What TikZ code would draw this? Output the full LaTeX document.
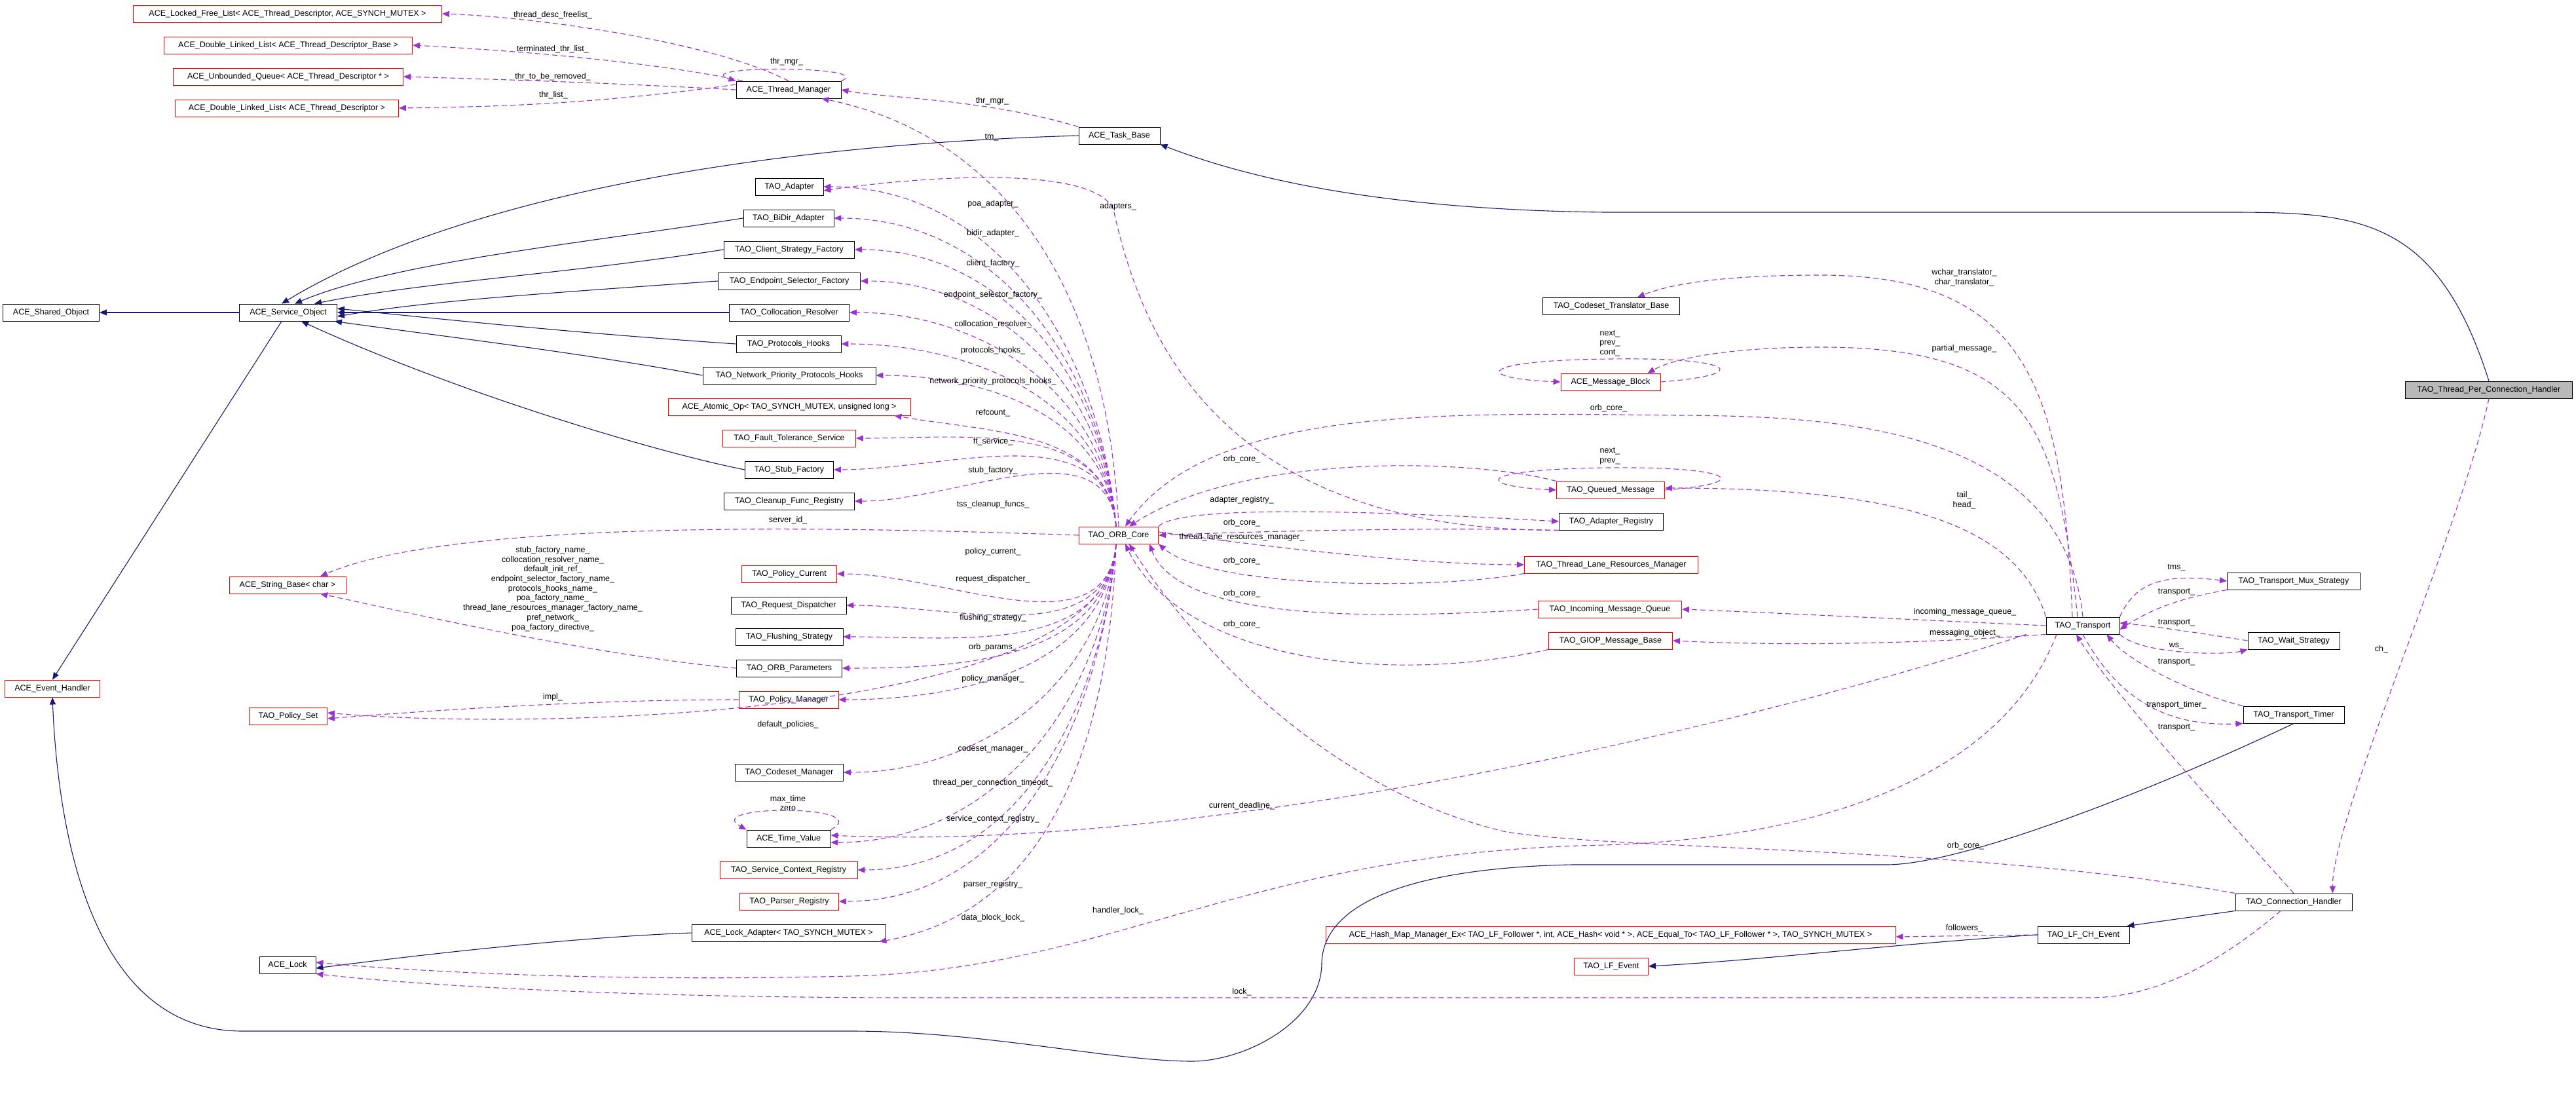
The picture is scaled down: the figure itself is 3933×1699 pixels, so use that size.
\documentclass[tikz,border=0pt]{standalone}
\usepackage{fontspec}
\setmainfont{Liberation Sans}
\usetikzlibrary{arrows.meta}
\definecolor{usecol}{HTML}{9A32CD}
\definecolor{inhcol}{HTML}{191970}
\tikzset{
  box/.style={draw=black, fill=white, line width=0.9pt, minimum height=26pt, inner sep=0pt, font=\fontsize{12.5}{14}\selectfont},
  rbox/.style={box, draw=red},
  gbox/.style={box, fill=gray!55},
  inh/.style={draw=inhcol, line width=1.1pt, -{Triangle[length=11pt,width=9pt]}},
  use/.style={draw=usecol, line width=1.1pt, dash pattern=on 8pt off 5pt, -{Triangle[length=11pt,width=9pt]}},
  lbl/.style={font=\fontsize{12.5}{14.7}\selectfont, inner sep=0pt, align=center}
}
\begin{document}
\begin{tikzpicture}[x=1pt,y=-1pt]
\useasboundingbox[fill=white] (0,0) rectangle (3933,1699);
% nodes
\node[rbox, minimum width=471] (lfl) at (439,21) {ACE\_Locked\_Free\_List< ACE\_Thread\_Descriptor, ACE\_SYNCH\_MUTEX >};
\node[rbox, minimum width=379] (dllb) at (440,69) {ACE\_Double\_Linked\_List< ACE\_Thread\_Descriptor\_Base >};
\node[rbox, minimum width=351] (ubq) at (440,117) {ACE\_Unbounded\_Queue< ACE\_Thread\_Descriptor * >};
\node[rbox, minimum width=341] (dlld) at (438,165) {ACE\_Double\_Linked\_List< ACE\_Thread\_Descriptor >};
\node[box, minimum width=160] (tm) at (1204,137) {ACE\_Thread\_Manager};
\node[box, minimum width=124] (tb) at (1709,207) {ACE\_Task\_Base};
\node[box, minimum width=104] (ad) at (1205,285) {TAO\_Adapter};
\node[box, minimum width=138] (bd) at (1204,333) {TAO\_BiDir\_Adapter};
\node[box, minimum width=199] (csf) at (1205,381) {TAO\_Client\_Strategy\_Factory};
\node[box, minimum width=217] (esf) at (1205,429) {TAO\_Endpoint\_Selector\_Factory};
\node[box, minimum width=183] (cr) at (1205,477) {TAO\_Collocation\_Resolver};
\node[box, minimum width=160] (ph) at (1204,525) {TAO\_Protocols\_Hooks};
\node[box, minimum width=264] (npph) at (1205,573) {TAO\_Network\_Priority\_Protocols\_Hooks};
\node[rbox, minimum width=370] (ao) at (1205,621) {ACE\_Atomic\_Op< TAO\_SYNCH\_MUTEX, unsigned long >};
\node[rbox, minimum width=203] (fts) at (1205,669) {TAO\_Fault\_Tolerance\_Service};
\node[box, minimum width=135] (sf) at (1205,717) {TAO\_Stub\_Factory};
\node[box, minimum width=199] (cfr) at (1205,765) {TAO\_Cleanup\_Func\_Registry};
\node[rbox, minimum width=145] (pc) at (1205,876) {TAO\_Policy\_Current};
\node[box, minimum width=176] (rd) at (1204,924) {TAO\_Request\_Dispatcher};
\node[box, minimum width=164] (fs) at (1205,972) {TAO\_Flushing\_Strategy};
\node[box, minimum width=161] (op) at (1205,1020) {TAO\_ORB\_Parameters};
\node[rbox, minimum width=152] (pm) at (1204,1068) {TAO\_Policy\_Manager};
\node[box, minimum width=165] (cm) at (1205,1179) {TAO\_Codeset\_Manager};
\node[box, minimum width=128] (tv) at (1204,1280) {ACE\_Time\_Value};
\node[rbox, minimum width=210] (scr) at (1204,1328) {TAO\_Service\_Context\_Registry};
\node[rbox, minimum width=151] (pr) at (1205,1376) {TAO\_Parser\_Registry};
\node[box, minimum width=296] (la) at (1204,1424) {ACE\_Lock\_Adapter< TAO\_SYNCH\_MUTEX >};
\node[box, minimum width=86] (lock) at (439,1473) {ACE\_Lock};
\node[box, minimum width=149] (so) at (440,477) {ACE\_Service\_Object};
\node[box, minimum width=147] (sho) at (78,477) {ACE\_Shared\_Object};
\node[rbox, minimum width=145] (eh) at (80,1051) {ACE\_Event\_Handler};
\node[rbox, minimum width=178] (sb) at (439,893) {ACE\_String\_Base< char >};
\node[rbox, minimum width=119] (ps) at (440,1093) {TAO\_Policy\_Set};
\node[rbox, minimum width=121] (orb) at (1708,817) {TAO\_ORB\_Core};
\node[box, minimum width=209] (ctb) at (2460,467) {TAO\_Codeset\_Translator\_Base};
\node[rbox, minimum width=152] (mb) at (2459,583) {ACE\_Message\_Block};
\node[rbox, minimum width=165] (qm) at (2459,748) {TAO\_Queued\_Message};
\node[box, minimum width=159] (ar) at (2460,796) {TAO\_Adapter\_Registry};
\node[rbox, minimum width=265] (tlrm) at (2460,862) {TAO\_Thread\_Lane\_Resources\_Manager};
\node[rbox, minimum width=219] (imq) at (2458,930) {TAO\_Incoming\_Message\_Queue};
\node[rbox, minimum width=189] (giop) at (2459,978) {TAO\_GIOP\_Message\_Base};
\node[rbox, minimum width=870] (hm) at (2459,1427) {ACE\_Hash\_Map\_Manager\_Ex< TAO\_LF\_Follower *, int, ACE\_Hash< void * >, ACE\_Equal\_To< TAO\_LF\_Follower * >, TAO\_SYNCH\_MUTEX >};
\node[rbox, minimum width=113] (lfe) at (2460,1475) {TAO\_LF\_Event};
\node[box, minimum width=112] (tr) at (3180,955) {TAO\_Transport};
\node[box, minimum width=203] (mux) at (3502,887) {TAO\_Transport\_Mux\_Strategy};
\node[box, minimum width=140] (ws) at (3502,978) {TAO\_Wait\_Strategy};
\node[box, minimum width=154] (tt) at (3502,1091) {TAO\_Transport\_Timer};
\node[box, minimum width=178] (ch) at (3502,1377) {TAO\_Connection\_Handler};
\node[box, minimum width=140] (lfch) at (3181,1427) {TAO\_LF\_CH\_Event};
\node[gbox, minimum width=255] (tpch) at (3800,595) {TAO\_Thread\_Per\_Connection\_Handler};

% inheritance
\draw[inh] (so) -- (sho);
\draw[inh] ([xshift=-10pt]so.south) -- (eh.north);
\draw[inh] (tb.west) .. controls (1050,225) and (650,330) .. ([xshift=-10pt]so.north);
\draw[inh] (bd.west) .. controls (900,370) and (600,400) .. ([xshift=10pt]so.north);
\draw[inh] (csf.west) .. controls (850,420) and (650,430) .. ([xshift=40pt]so.north);
\draw[inh] (esf.west) .. controls (800,450) and (650,460) .. ([yshift=-6pt]so.east);
\draw[inh] (cr.west) -- (so.east);
\draw[inh] (ph.west) .. controls (900,510) and (700,490) .. ([yshift=6pt]so.east);
\draw[inh] (npph.west) .. controls (900,540) and (650,510) .. ([xshift=-4pt]so.south east);
\draw[inh] (sf.west) .. controls (1000,690) and (700,600) .. ([xshift=20pt]so.south);
\draw[inh] (tpch.north) .. controls (3720,330) and (3600,324) .. (3400,324) -- (2450,324) .. controls (2100,320) and (1900,270) .. (tb.south east);
\draw[inh] (tt.south) .. controls (3300,1200) and (3000,1320) .. (2880,1320) -- (2400,1320) .. controls (2150,1325) and (2020,1380) .. (2018,1470) .. controls (2018,1560) and (1900,1620) .. (1820,1620) .. controls (1700,1620) and (1500,1574) .. (1300,1574) -- (370,1574) .. controls (150,1574) and (90,1300) .. (eh.south);
\draw[inh] (ch.south west) -- ([xshift=-4pt]lfch.north east);
\draw[inh] (lfch.west) .. controls (2900,1440) and (2700,1465) .. (lfe.east);
\draw[inh] (la.west) .. controls (900,1430) and (700,1450) .. ([yshift=-5pt]lock.east);

% thread manager
\draw[use] (tm.north) .. controls (1080,60) and (800,25) .. (lfl.east);
\draw[use] ([xshift=-70pt]tm.north) .. controls (1000,95) and (800,78) .. (dllb.east);
\draw[use] (tm.west) .. controls (900,125) and (750,121) .. (ubq.east);
\draw[use] ([yshift=8pt]tm.west) .. controls (900,160) and (750,163) .. (dlld.east);
\draw[use] (tm.north east) .. controls (1340,100) and (1050,100) .. (tm.north west);
\draw[use] (tb.north west) .. controls (1500,150) and (1350,150) .. (tm.east);
\draw[use] (orb.north) .. controls (1690,400) and (1500,200) .. ([xshift=-30pt]tm.south east);

% ORB core fan up
\foreach \t in {ad,bd,csf,esf,cr,ph,npph,fts,sf,cfr}
  \draw[use] ([xshift=-4pt]orb.north) to[out=95,in=0] (\t.east);
\draw[use] ([xshift=-4pt]orb.north) to[out=95,in=-10] ([xshift=-25pt]ao.south east);
\draw[use] (ar.south west) .. controls (1850,810) and (1740,500) .. (1700,320) .. controls (1670,250) and (1400,270) .. ([yshift=-6pt]ad.east);
\draw[use] (orb.west) .. controls (1300,805) and (700,790) .. ([xshift=50pt]sb.north);
\draw[use] (op.west) .. controls (900,1000) and (600,930) .. ([xshift=50pt]sb.south);
% ORB core fan down
\foreach \t in {pc,rd,fs,op,pm,cm,scr,pr}
  \draw[use] ([xshift=-4pt]orb.south) to[out=-95,in=0] (\t.east);
\draw[use] ([xshift=-4pt]orb.south) to[out=-95,in=0] ([yshift=-6pt]tv.east);
\draw[use] ([xshift=-4pt]orb.south) to[out=-92,in=10] ([xshift=-10pt]la.south east);
\draw[use] ([xshift=-4pt]orb.south) .. controls (1700,1100) and (800,1115) .. ([yshift=5pt]ps.east);
\draw[use] (pm.west) .. controls (900,1068) and (650,1085) .. ([yshift=-4pt]ps.east);
\draw[use] (tv.north east) .. controls (1340,1228) and (1070,1228) .. (tv.north west);

% right-side ORB core links
\draw[use] (tr.north) .. controls (3150,650) and (2800,635) .. (2560,634) .. controls (2200,630) and (1850,620) .. ([xshift=10pt]orb.north);
\draw[use] (qm.north west) .. controls (2250,700) and (1900,690) .. ([xshift=16pt]orb.north);
\draw[use] (orb.north east) .. controls (1800,770) and (2100,780) .. (ar.west);
\draw[use] (ar.south west) .. controls (2200,805) and (1950,810) .. (orb.east);
\draw[use] ([yshift=5pt]orb.east) .. controls (1900,830) and (2150,862) .. (tlrm.west);
\draw[use] (tlrm.south west) .. controls (2200,900) and (1850,900) .. (orb.south east);
\draw[use] (imq.west) .. controls (2100,945) and (1800,950) .. ([xshift=-14pt]orb.south east);
\draw[use] (giop.south west) .. controls (2100,1050) and (1800,1000) .. ([xshift=10pt]orb.south);
\draw[use] (ch.north west) .. controls (3000,1290) and (2500,1300) .. (2300,1270) .. controls (2000,1200) and (1800,950) .. ([xshift=16pt]orb.south);
\draw[use] (mb.east) .. controls (2680,572) and (2650,545) .. (2458,548) .. controls (2250,550) and (2250,578) .. (mb.west);
\draw[use] (qm.east) .. controls (2680,738) and (2650,712) .. (2458,714) .. controls (2250,716) and (2250,742) .. (qm.west);

% transport
\draw[use] ([xshift=-16pt]tr.north) .. controls (3150,600) and (3100,420) .. (2780,420) .. controls (2650,420) and (2560,430) .. ([xshift=40pt]ctb.north);
\draw[use] ([xshift=-8pt]tr.north) .. controls (3140,650) and (3100,530) .. (2780,530) .. controls (2650,530) and (2560,545) .. ([xshift=-20pt]mb.north east);
\draw[use] (tr.north west) .. controls (3080,800) and (2900,745) .. ([yshift=3pt]qm.east);
\draw[use] (tr.west) .. controls (2900,945) and (2700,935) .. (imq.east);
\draw[use] (tr.south west) .. controls (2900,985) and (2700,985) .. (giop.east);
\draw[use] (tr.north east) .. controls (3260,890) and (3300,875) .. (mux.west);
\draw[use] (mux.south west) .. controls (3350,910) and (3300,920) .. ([yshift=-6pt]tr.east);
\draw[use] (ws.west) .. controls (3350,965) and (3280,955) .. ([yshift=4pt]tr.east);
\draw[use] (tr.south east) .. controls (3270,1000) and (3400,1000) .. (ws.south west);
\draw[use] (tt.north west) .. controls (3350,1060) and (3250,1010) .. ([xshift=-20pt]tr.south east);
\draw[use] (tr.south) .. controls (3230,1060) and (3300,1110) .. (tt.south west);
\draw[use] (ch.north) .. controls (3400,1250) and (3220,1050) .. ([xshift=-10pt]tr.south);
\draw[use] (tpch.south) .. controls (3760,800) and (3560,1250) .. ([xshift=-30pt]ch.north east);
\draw[use] ([xshift=-30pt]tr.south west) .. controls (2600,1130) and (1800,1300) .. ([yshift=5pt]tv.east);
\draw[use] ([xshift=-40pt]tr.south) .. controls (3050,1200) and (2750,1280) .. (2450,1290) .. controls (1900,1300) and (1700,1480) .. (1300,1490) .. controls (900,1500) and (600,1480) .. ([yshift=4pt]lock.east);
\draw[use] ([xshift=-20pt]ch.south) .. controls (3400,1460) and (3300,1523) .. (3190,1523) -- (1400,1523) .. controls (900,1523) and (600,1500) .. (lock.south east);
\draw[use] (lfch.west) -- ([yshift=-3pt]hm.east);

% labels
\node[lbl] at (844,23) {thread\_desc\_freelist\_};
\node[lbl] at (844,75) {terminated\_thr\_list\_};
\node[lbl] at (844,117) {thr\_to\_be\_removed\_};
\node[lbl] at (845,145) {thr\_list\_};
\node[lbl] at (1201,94) {thr\_mgr\_};
\node[lbl] at (1515,154) {thr\_mgr\_};
\node[lbl] at (1514,210) {tm\_};
\node[lbl] at (1707,315) {adapters\_};
\node[lbl] at (1516,311) {poa\_adapter\_};
\node[lbl] at (1516,356) {bidir\_adapter\_};
\node[lbl] at (1516,402) {client\_factory\_};
\node[lbl] at (1516,450) {endpoint\_selector\_factory\_};
\node[lbl] at (1516,495) {collocation\_resolver\_};
\node[lbl] at (1516,535) {protocols\_hooks\_};
\node[lbl] at (1516,582) {network\_priority\_protocols\_hooks\_};
\node[lbl] at (1516,630) {refcount\_};
\node[lbl] at (1516,674) {ft\_service\_};
\node[lbl] at (1516,718) {stub\_factory\_};
\node[lbl] at (1516,770) {tss\_cleanup\_funcs\_};
\node[lbl] at (1203,794) {server\_id\_};
\node[lbl] at (1516,842) {policy\_current\_};
\node[lbl] at (1516,884) {request\_dispatcher\_};
\node[lbl] at (1516,943) {flushing\_strategy\_};
\node[lbl] at (1516,988) {orb\_params\_};
\node[lbl] at (1516,1036) {policy\_manager\_};
\node[lbl] at (1203,1106) {default\_policies\_};
\node[lbl] at (1516,1143) {codeset\_manager\_};
\node[lbl] at (1516,1195) {thread\_per\_connection\_timeout\_};
\node[lbl] at (1516,1250) {service\_context\_registry\_};
\node[lbl] at (1516,1350) {parser\_registry\_};
\node[lbl] at (1516,1401) {data\_block\_lock\_};
\node[lbl] at (1707,1390) {handler\_lock\_};
\node[lbl] at (1896,1230) {current\_deadline\_};
\node[lbl] at (1896,1514) {lock\_};
\node[lbl] at (844,1064) {impl\_};
\node[lbl] at (1203,1226) {max\_time\\zero};
\node[lbl] at (844,899) {stub\_factory\_name\_\\collocation\_resolver\_name\_\\default\_init\_ref\_\\endpoint\_selector\_factory\_name\_\\protocols\_hooks\_name\_\\poa\_factory\_name\_\\thread\_lane\_resources\_manager\_factory\_name\_\\pref\_network\_\\poa\_factory\_directive\_};
\node[lbl] at (2458,524) {next\_\\prev\_\\cont\_};
\node[lbl] at (2456,623) {orb\_core\_};
\node[lbl] at (2458,696) {next\_\\prev\_};
\node[lbl] at (1896,701) {orb\_core\_};
\node[lbl] at (1896,763) {adapter\_registry\_};
\node[lbl] at (1896,798) {orb\_core\_};
\node[lbl] at (1896,820) {thread\_lane\_resources\_manager\_};
\node[lbl] at (1896,856) {orb\_core\_};
\node[lbl] at (1896,906) {orb\_core\_};
\node[lbl] at (1896,953) {orb\_core\_};
\node[lbl] at (2999,424) {wchar\_translator\_\\char\_translator\_};
\node[lbl] at (2999,532) {partial\_message\_};
\node[lbl] at (2999,764) {tail\_\\head\_};
\node[lbl] at (3000,934) {incoming\_message\_queue\_};
\node[lbl] at (3000,966) {messaging\_object\_};
\node[lbl] at (3323,867) {tms\_};
\node[lbl] at (3323,904) {transport\_};
\node[lbl] at (3323,951) {transport\_};
\node[lbl] at (3323,986) {ws\_};
\node[lbl] at (3323,1011) {transport\_};
\node[lbl] at (3323,1076) {transport\_timer\_};
\node[lbl] at (3323,1111) {transport\_};
\node[lbl] at (3636,991) {ch\_};
\node[lbl] at (3001,1291) {orb\_core\_};
\node[lbl] at (2999,1417) {followers\_};
\end{tikzpicture}
\end{document}
